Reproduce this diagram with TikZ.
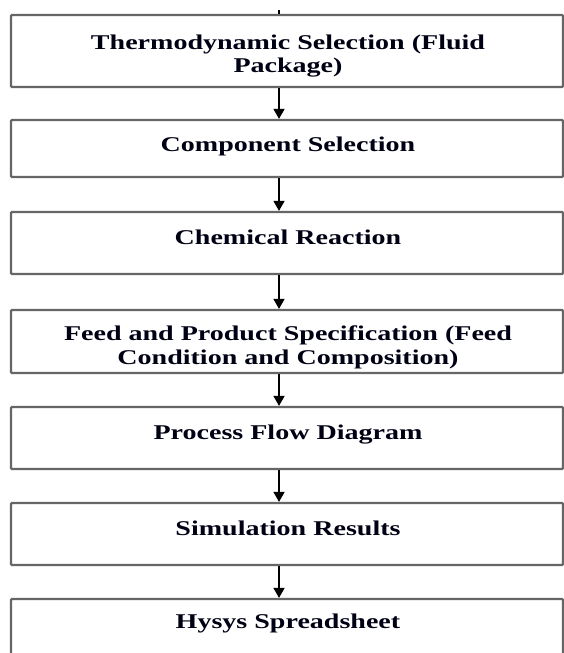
\documentclass[tikz,border=0pt]{standalone}
\usepackage{fontspec}
\setmainfont{Liberation Serif}
\usepackage{graphicx}
\usetikzlibrary{arrows.meta}
\newcommand{\wideline}[1]{\scalebox{1.335}[1]{#1}}
\tikzset{
  stagebox/.style={draw=black!60, line width=2.2pt, rounded corners=1pt, minimum width=552pt, inner sep=0pt, fill=white},
  stagetext/.style={anchor=base, inner sep=0pt, font=\fontsize{21}{24}\selectfont\bfseries, text=black!92!blue},
  flowarrow/.style={draw=black, line width=1.5pt, -{Triangle[width=11pt,length=10pt]}}
}
\begin{document}
\begin{tikzpicture}[x=1pt,y=-1pt]
\useasboundingbox (0,0) rectangle (564,653);
\clip (0,0) rectangle (564,653);
\fill[white] (0,0) rectangle (564,653);
\coordinate (ax) at (279,0);
\coordinate (tick) at (279,10);
\node[stagebox, minimum height=72pt] (b1) at (287,51) {};
\node[stagebox, minimum height=57pt] (b2) at (287,148.5) {};
\node[stagebox, minimum height=62pt] (b3) at (287,243) {};
\node[stagebox, minimum height=63pt] (b4) at (287,341.5) {};
\node[stagebox, minimum height=62pt] (b5) at (287,438) {};
\node[stagebox, minimum height=62pt] (b6) at (287,534) {};
\node[stagebox, minimum height=81pt] (b7) at (287,639.5) {};
\node[stagetext] (t1a) at (288,49) {\wideline{Thermodynamic Selection (Fluid}};
\node[stagetext] (t1b) at (288,72) {\wideline{Package)}};
\node[stagetext] (t2) at (288,151) {\wideline{Component Selection}};
\node[stagetext] (t3) at (288,244) {\wideline{Chemical Reaction}};
\node[stagetext] (t4a) at (288,340) {\wideline{Feed and Product Specification (Feed}};
\node[stagetext] (t4b) at (288,364) {\wideline{Condition and Composition)}};
\node[stagetext] (t5) at (288,439) {\wideline{Process Flow Diagram}};
\node[stagetext] (t6) at (288,535) {\wideline{Simulation Results}};
\node[stagetext] (t7) at (288,628) {\wideline{Hysys Spreadsheet}};
\draw[black, line width=1.5pt] (tick) -- (b1.north -| ax);
\draw[flowarrow] (b1.south -| ax) -- (b2.north -| ax);
\draw[flowarrow] (b2.south -| ax) -- (b3.north -| ax);
\draw[flowarrow] (b3.south -| ax) -- (b4.north -| ax);
\draw[flowarrow] (b4.south -| ax) -- (b5.north -| ax);
\draw[flowarrow] (b5.south -| ax) -- (b6.north -| ax);
\draw[flowarrow] (b6.south -| ax) -- (b7.north -| ax);
\end{tikzpicture}
\end{document}
